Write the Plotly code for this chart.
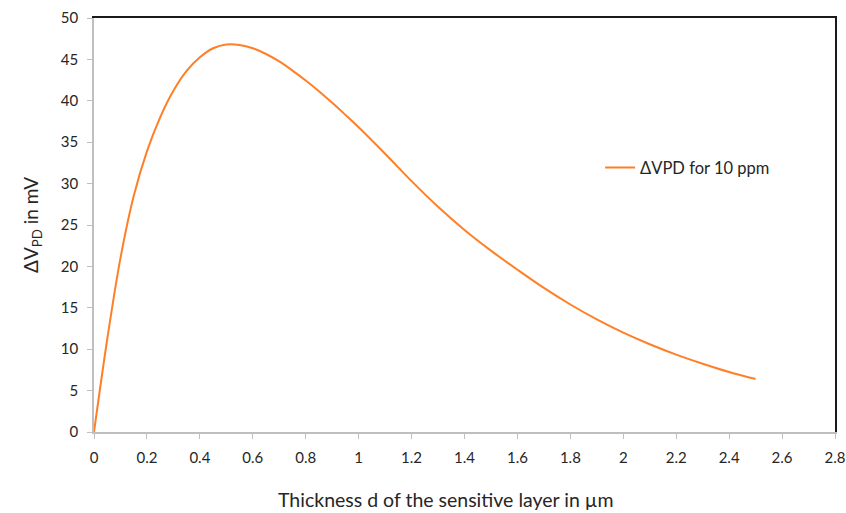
import plotly.graph_objects as go

# Thickness of the sensitive layer (µm) and photodiode voltage change (mV)
thickness_um = [0.0, 0.05, 0.1, 0.15, 0.2, 0.25, 0.3, 0.35, 0.4, 0.45, 0.5,
                0.55, 0.6, 0.65, 0.7, 0.75, 0.8, 0.85, 0.9, 0.95, 1.0,
                1.1, 1.2, 1.3, 1.4, 1.5, 1.6, 1.7, 1.8, 1.9, 2.0,
                2.1, 2.2, 2.3, 2.4, 2.5]
delta_vpd_mv = [0.0, 11.2, 21.0, 28.5, 33.9, 38.0, 41.2, 43.6, 45.25, 46.35, 46.8,
                46.75, 46.35, 45.65, 44.75, 43.65, 42.45, 41.15, 39.75, 38.3, 36.8,
                33.6, 30.3, 27.2, 24.4, 21.9, 19.6, 17.4, 15.4, 13.6, 12.0,
                10.6, 9.35, 8.25, 7.25, 6.4]

x_ticks = [0, 0.2, 0.4, 0.6, 0.8, 1, 1.2, 1.4, 1.6, 1.8, 2, 2.2, 2.4, 2.6, 2.8]
x_tick_text = ["0", "0.2", "0.4", "0.6", "0.8", "1", "1.2", "1.4", "1.6",
               "1.8", "2", "2.2", "2.4", "2.6", "2.8"]
y_ticks = [0, 5, 10, 15, 20, 25, 30, 35, 40, 45, 50]

FONT = "Lato, 'Open Sans', sans-serif"
TEXT = "#262626"
AXIS_GREY = "#bfbfbf"

fig = go.Figure()
fig.add_trace(go.Scatter(
    x=thickness_um, y=delta_vpd_mv,
    mode="lines",
    line=dict(color="#ff7f27", width=2, shape="spline", smoothing=1.0),
    name="ΔVPD for 10 ppm",
))

fig.update_layout(
    width=846, height=513,
    margin=dict(l=94, r=11, t=18, b=81, autoexpand=False),
    paper_bgcolor="white",
    plot_bgcolor="white",
    font=dict(family=FONT, size=15, color=TEXT),
    showlegend=True,
    legend=dict(
        x=0.683, y=0.638, xanchor="left", yanchor="middle",
        bgcolor="rgba(0,0,0,0)", borderwidth=0,
        font=dict(family=FONT, size=16.5, color=TEXT),
    ),
    xaxis=dict(
        range=[0, 2.8], tickmode="array", tickvals=x_ticks, ticktext=x_tick_text,
        showgrid=False, zeroline=False, automargin=False,
        showline=True, linecolor=AXIS_GREY, linewidth=1.5,
        ticks="outside", ticklen=5, tickcolor=AXIS_GREY, tickwidth=1,
        ticklabelstandoff=6,
        tickfont=dict(family=FONT, size=15, color=TEXT),
    ),
    yaxis=dict(
        range=[0, 50], tickmode="array", tickvals=y_ticks,
        showgrid=False, zeroline=False, automargin=False,
        showline=True, linecolor=AXIS_GREY, linewidth=1.5,
        ticks="outside", ticklen=5, tickcolor=AXIS_GREY, tickwidth=1,
        ticklabelstandoff=6,
        tickfont=dict(family=FONT, size=15, color=TEXT),
        title=dict(text="ΔV<sub>PD</sub> in mV",
                   font=dict(family=FONT, size=19, color=TEXT), standoff=17),
    ),
    # top and right frame edges drawn as dark overlay axes
    xaxis2=dict(overlaying="x", side="top", range=[0, 2.8], showline=True,
                linecolor="#1a1a1a", linewidth=1.5, showticklabels=False,
                ticks="", showgrid=False, zeroline=False, automargin=False),
    yaxis2=dict(overlaying="y", side="right", range=[0, 50], showline=True,
                linecolor="#1a1a1a", linewidth=1.5, showticklabels=False,
                ticks="", showgrid=False, zeroline=False, automargin=False),
)

# x-axis title, set slightly left of the plot centre
fig.add_annotation(
    text="Thickness d of the sensitive layer in µm",
    xref="paper", yref="paper", x=0.475, y=-0.164,
    xanchor="center", yanchor="middle", showarrow=False,
    font=dict(family=FONT, size=19.5, color=TEXT),
)

# invisible trace to activate the overlay axes
fig.add_trace(go.Scatter(x=[None], y=[None], xaxis="x2", yaxis="y2",
                         showlegend=False, hoverinfo="skip"))

fig.write_html("out.html")
